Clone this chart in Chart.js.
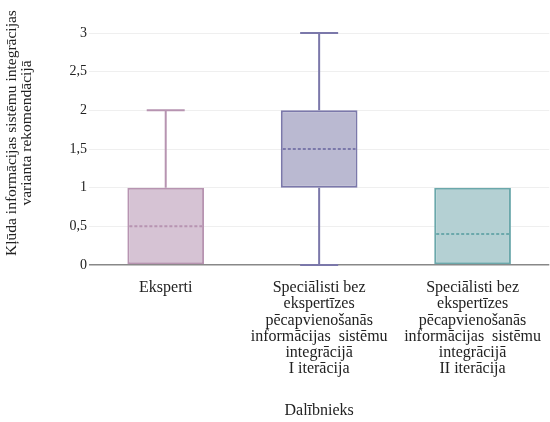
<!DOCTYPE html>
<html>
<head>
<meta charset="utf-8">
<script src="https://cdn.jsdelivr.net/npm/chart.js@4"></script>
<style>
  html, body { margin: 0; padding: 0; background: #fff; overflow: hidden; }
  #wrap { width: 556px; height: 422px; }
</style>
</head>
<body>
<div id="wrap"><canvas id="boxChart"></canvas></div>
<script>
// categories (multi-line labels)
const categories = [
    ['Eksperti'],
    ['Speciālisti bez', 'ekspertīzes', 'pēcapvienošanās', 'informācijas  sistēmu', 'integrācijā', 'I iterācija'],
    ['Speciālisti bez', 'ekspertīzes', 'pēcapvienošanās', 'informācijas  sistēmu', 'integrācijā', 'II iterācija']
];
// box statistics
const whiskerMin = [0, 0, 0];
const q1 = [0, 1, 0];
const medians = [0.5, 1.5, 0.4];
const q3 = [1, 2, 1];
const whiskerMax = [2, 3, 1];
const yTicks = [0, 0.5, 1, 1.5, 2, 2.5, 3];
const yTitleLines = ['Kļūda informācijas sistēmu integrācijas', 'varianta rekomendācijā'];

const fills = ['#d6c3d4', '#bab9d1', '#b4d0d3'];
const strokes = ['#b794b1', '#7b78aa', '#6ba8ab'];
const serif = "'Liberation Serif', 'Times New Roman', serif";

// whiskers + median lines drawn through the chart scales
const boxExtras = {
    id: 'boxExtras',
    afterDatasetsDraw(chart) {
        const { ctx, scales: { x, y } } = chart;
        const capHalf = 19;
        ctx.save();
        categories.forEach((c, i) => {
            const cx = x.getPixelForValue(i);
            const bar = chart.getDatasetMeta(0).data[i];
            const half = bar.width / 2;
            ctx.strokeStyle = strokes[i];
            ctx.lineWidth = 2;
            ctx.setLineDash([]);
            const drawWhisker = (from, to) => {
                if (from === to) return;
                ctx.beginPath();
                ctx.moveTo(cx, y.getPixelForValue(from));
                ctx.lineTo(cx, y.getPixelForValue(to));
                ctx.moveTo(cx - capHalf, y.getPixelForValue(to));
                ctx.lineTo(cx + capHalf, y.getPixelForValue(to));
                ctx.stroke();
            };
            drawWhisker(q3[i], whiskerMax[i]);
            drawWhisker(q1[i], whiskerMin[i]);
            // median
            ctx.setLineDash([3, 2]);
            ctx.beginPath();
            const my = y.getPixelForValue(medians[i]);
            ctx.moveTo(cx - half + 2, my);
            ctx.lineTo(cx + half - 2, my);
            ctx.stroke();
        });
        ctx.restore();
    },
    // y axis title, placed a bit above the chart-area centre like the original
    afterDraw(chart) {
        const { ctx } = chart;
        ctx.save();
        ctx.fillStyle = '#222';
        ctx.font = "15.5px 'Liberation Serif', 'Times New Roman', serif";
        ctx.textAlign = 'center';
        ctx.textBaseline = 'middle';
        ctx.translate(0, 133);
        ctx.rotate(-Math.PI / 2);
        ctx.fillText(yTitleLines[0], 0, 12);
        ctx.fillText(yTitleLines[1], 0, 27);
        ctx.restore();
    }
};

new Chart(document.getElementById('boxChart'), {
    type: 'bar',
    data: {
        labels: categories,
        datasets: [{
            data: q1.map((v, i) => [v, q3[i]]),
            backgroundColor: fills,
            borderColor: strokes,
            borderWidth: 2,
            borderSkipped: false,
            barPercentage: 0.5,
            categoryPercentage: 1
        }]
    },
    options: {
        responsive: true,
        maintainAspectRatio: false,
        animation: false,
        layout: { padding: { top: 33, left: 0, right: 0, bottom: 0 } },
        plugins: {
            legend: { display: false },
            tooltip: { enabled: false }
        },
        scales: {
            x: {
                afterFit(axis) {
                    axis.height = 157;
                },
                grid: { display: false, drawTicks: false },
                border: { display: false },
                ticks: {
                    color: '#222',
                    font: { family: serif, size: 16, lineHeight: 1.01 },
                    maxRotation: 0,
                    autoSkip: false,
                    padding: 15
                },
                title: {
                    display: true,
                    text: 'Dalībnieks',
                    color: '#222',
                    font: { family: serif, size: 16, lineHeight: 1.0 },
                    padding: { top: 20, bottom: 3 }
                }
            },
            y: {
                min: 0,
                max: 3,
                afterBuildTicks(axis) {
                    axis.ticks = yTicks.map(v => ({ value: v }));
                },
                afterFit(axis) {
                    axis.width = 89;
                },
                grid: {
                    color: c => c.tick && c.tick.value === 0 ? '#888' : '#efefef',
                    lineWidth: c => c.tick && c.tick.value === 0 ? 1.5 : 1,
                    drawTicks: false
                },
                border: { display: false },
                ticks: {
                    color: '#222',
                    font: { family: serif, size: 14 },
                    padding: 2,
                    callback: v => String(v).replace('.', ',')
                }
            }
        }
    },
    plugins: [boxExtras]
});
</script>
</body>
</html>
